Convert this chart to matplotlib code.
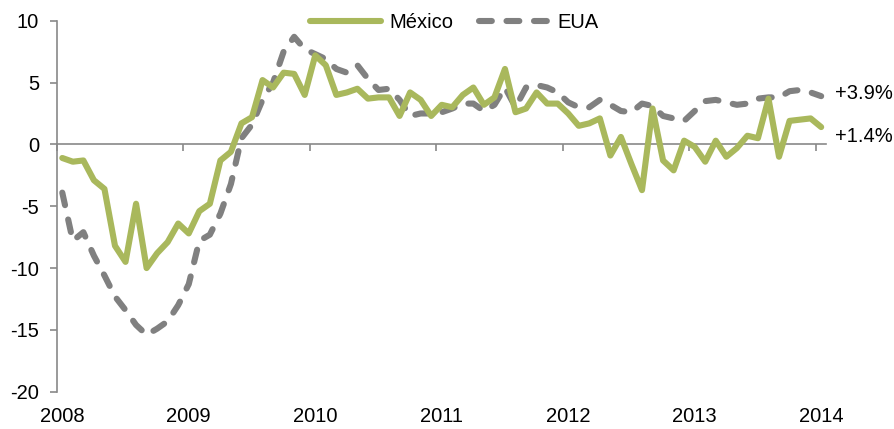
# -*- coding=utf-8 -*-
import matplotlib
matplotlib.use('Agg')
import matplotlib.pyplot as plt
import numpy as np

plt.rcParams['font.family'] = ['Liberation Sans', 'DejaVu Sans']
plt.rcParams['axes.unicode_minus'] = False

# monthly values, ene-2008 .. ene-2014
mexico = [-1.1, -1.4, -1.3, -2.9, -3.6, -8.2, -9.5, -4.8, -10.0, -8.8, -7.9, -6.4,
          -7.2, -5.4, -4.8, -1.3, -0.6, 1.7, 2.2, 5.2, 4.6, 5.8, 5.7, 4.0,
          7.2, 6.4, 4.0, 4.2, 4.5, 3.7, 3.8, 3.8, 2.3, 4.2, 3.6, 2.3,
          3.2, 3.0, 4.0, 4.6, 3.2, 3.8, 6.1, 2.6, 2.9, 4.2, 3.3, 3.3,
          2.5, 1.5, 1.7, 2.1, -0.9, 0.6, -1.6, -3.7, 2.9, -1.3, -2.1, 0.3,
          -0.2, -1.4, 0.3, -1.0, -0.3, 0.7, 0.5, 3.7, -1.0, 1.9, 2.0, 2.1,
          1.4]
eua = [-3.9, -7.8, -7.1, -9.0, -10.6, -12.3, -13.4, -14.6, -15.4, -14.9, -14.3, -13.0,
       -11.3, -7.8, -7.3, -5.6, -3.2, 0.5, 1.6, 3.6, 5.0, 7.5, 8.7, 7.7,
       7.3, 6.9, 6.1, 5.8, 6.4, 5.3, 4.4, 4.5, 3.6, 2.3, 2.5, 2.5,
       2.6, 2.9, 3.3, 3.3, 2.7, 3.2, 4.6, 3.0, 4.6, 4.8, 4.6, 4.2,
       3.4, 3.0, 3.0, 3.6, 3.2, 2.7, 2.6, 3.3, 3.1, 2.3, 2.1, 1.9,
       2.7, 3.5, 3.6, 3.4, 3.2, 3.3, 3.7, 3.8, 3.8, 4.3, 4.4, 4.2,
       3.9]
years = ['2008', '2009', '2010', '2011', '2012', '2013', '2014']
last_labels = ['+1.4%', '+3.9%']

green = '#A9B85C'
grey = '#808080'
axis_grey = '#898989'

x = np.arange(len(mexico))

fig = plt.figure(figsize=(8.95, 4.29), dpi=100)
ax = fig.add_axes([0.0637, 0.0869, 0.9234 - 0.0637, 0.9517 - 0.0869])

ax.plot(x, eua, color=grey, lw=4.4, dashes=(2.1, 2.4),
        dash_capstyle='round', dash_joinstyle='round', label='EUA', zorder=2)
ax.plot(x, mexico, color=green, lw=4.4, solid_capstyle='round',
        solid_joinstyle='round', label='México', zorder=3)

ax.set_xlim(-0.5, len(x) - 0.5)
ax.set_ylim(-20, 10)
ax.set_yticks([-20, -15, -10, -5, 0, 5, 10])

for s in ['top', 'right']:
    ax.spines[s].set_visible(False)
ax.spines['left'].set_color(axis_grey)
ax.spines['bottom'].set_color(axis_grey)
ax.spines['left'].set_linewidth(1.2)
ax.spines['bottom'].set_linewidth(1.2)
ax.spines['bottom'].set_position(('data', 0))

# tick marks between the years on the zero line
ax.set_xticks(np.arange(-0.5, len(x), 12))
ax.set_xticklabels([])
ax.tick_params(axis='x', direction='out', length=5, width=1.2, color=axis_grey)
ax.tick_params(axis='y', direction='out', length=5, width=1.2, color=axis_grey,
               labelsize=14.5, pad=8)

# year labels at the bottom
sec = ax.secondary_xaxis('bottom')
sec.set_xticks(np.arange(0, len(x), 12))
sec.set_xticklabels(years)
sec.tick_params(length=0, labelsize=14.5, pad=11)
sec.spines['bottom'].set_visible(False)

# end-of-series labels
ax.annotate(last_labels[0], (x[-1], mexico[-1]), xytext=(10, -6.5),
            textcoords='offset points', va='center', ha='left', fontsize=14.5)
ax.annotate(last_labels[1], (x[-1], eua[-1]), xytext=(10, 2),
            textcoords='offset points', va='center', ha='left', fontsize=14.5)

h, l = ax.get_legend_handles_labels()
leg = fig.legend(h[::-1], l[::-1], loc='center', bbox_to_anchor=(0.508, 1 - 23 / 429.),
                 ncol=2, frameon=False, fontsize=14.5, handlelength=3.5,
                 handletextpad=0.4, columnspacing=1.3, borderpad=0)

fig.savefig('out.png', dpi=100)
